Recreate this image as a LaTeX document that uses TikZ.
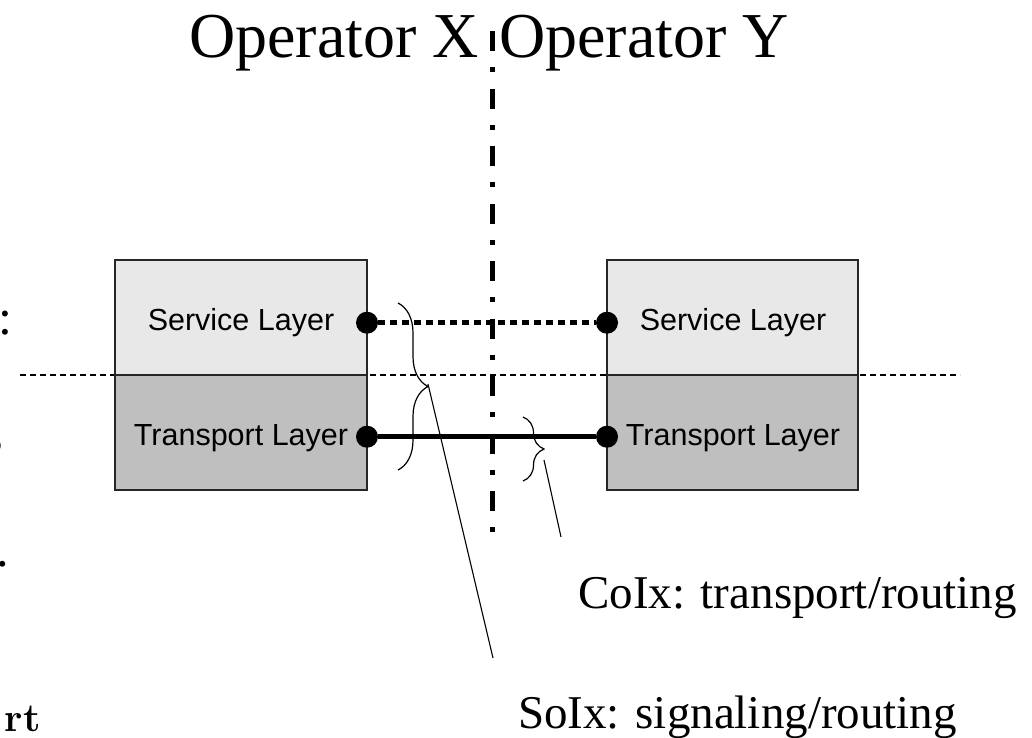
\documentclass[tikz,border=0pt]{standalone}
\usepackage{fontspec}
\newfontfamily\timesf{Liberation Serif}
\newfontfamily\arialf{Liberation Sans}
\usetikzlibrary{decorations.pathreplacing}
\begin{document}
\begin{tikzpicture}[x=1pt,y=-1pt,
  toplayer/.style={draw=black!85,line width=1.2pt,fill=black!9},
  botlayer/.style={draw=black!85,line width=1.2pt,fill=black!25},
  lbl/.style={inner sep=0pt,anchor=base,font=\arialf\fontsize{30.5}{30.5}\selectfont},
  titletext/.style={inner sep=0pt,font=\timesf\fontsize{64}{64}\selectfont},
  captext/.style={inner sep=0pt,anchor=base west,font=\timesf\fontsize{47}{47}\selectfont},
  frag/.style={inner sep=0pt,font=\timesf\fontsize{50}{50}\selectfont},
  ep/.style={circle,fill=black,inner sep=0pt,minimum size=22pt},
  leader/.style={line width=1.1pt},
  bracestyle/.style={line width=1.2pt,decorate},
]
\useasboundingbox (0,0) rectangle (1032,737);

% operator border (dash-dot)
\coordinate (vtop) at (492,31);
\coordinate (vbot) at (492,532);
\draw[line width=5pt,dash pattern=on 20pt off 16.25pt on 5pt off 16.25pt] (vtop) -- (vbot);

% layer separator
\coordinate (hl) at (20,375);
\coordinate (hr) at (960,375);
\draw[line width=1.1pt,dash pattern=on 6pt off 4pt] (hl) -- (hr);

% left box
\draw[toplayer] (115,260) rectangle (367,375);
\draw[botlayer] (115,375) rectangle (367,490);
% right box
\draw[toplayer] (607,260) rectangle (858,375);
\draw[botlayer] (607,375) rectangle (858,490);

\node[lbl] (sl1) at (241,330) {Service Layer};
\node[lbl] (tl1) at (241,445) {Transport Layer};
\node[lbl] (sl2) at (733,330) {Service Layer};
\node[lbl] (tl2) at (733,445) {Transport Layer};

% endpoints
\node[ep] (s1) at (367,322.7) {};
\node[ep] (s2) at (607,322.7) {};
\node[ep] (t1) at (367,436.7) {};
\node[ep] (t2) at (607,436.7) {};
\draw[line width=5pt,dash pattern=on 7pt off 5pt] (s1) -- (s2);
\draw[line width=4.5pt] (t1) -- (t2);

% braces
\coordinate (b1a) at (398,303);
\coordinate (b1b) at (398,470);
\draw[bracestyle,decoration={brace,amplitude=30pt}] (b1a) -- (b1b);
\coordinate (b2a) at (523,417);
\coordinate (b2b) at (523,481);
\draw[bracestyle,decoration={brace,amplitude=21pt}] (b2a) -- (b2b);

% leaders
\coordinate (soixtip) at (428,384);
\coordinate (soixend) at (493,658);
\draw[leader] (soixtip) -- (soixend);
\coordinate (coixtip) at (544,460);
\coordinate (coixend) at (561,537);
\draw[leader] (coixtip) -- (coixend);

% titles
\node[titletext,anchor=base east] (opx) at (479,57) {Operator X};
\node[titletext,anchor=base west] (opy) at (499,57) {Operator Y};

% captions
\node[captext] (coix) at (578,608) {CoIx: transport/routing};
\node[captext] (soix) at (518,728) {SoIx: signaling/routing};

% clipped fragments at left edge
\node[frag,anchor=base west] (f1) at (-2,334) {:};
\node[frag,anchor=base east] (f2) at (3.5,452) {s};
\node[frag,anchor=base west] (f3) at (-3.5,566) {.};
\node[inner sep=0pt,anchor=base east,font=\bfseries\fontsize{40}{40}\selectfont] (f4) at (41,731) {rt};
\end{tikzpicture}
\end{document}
